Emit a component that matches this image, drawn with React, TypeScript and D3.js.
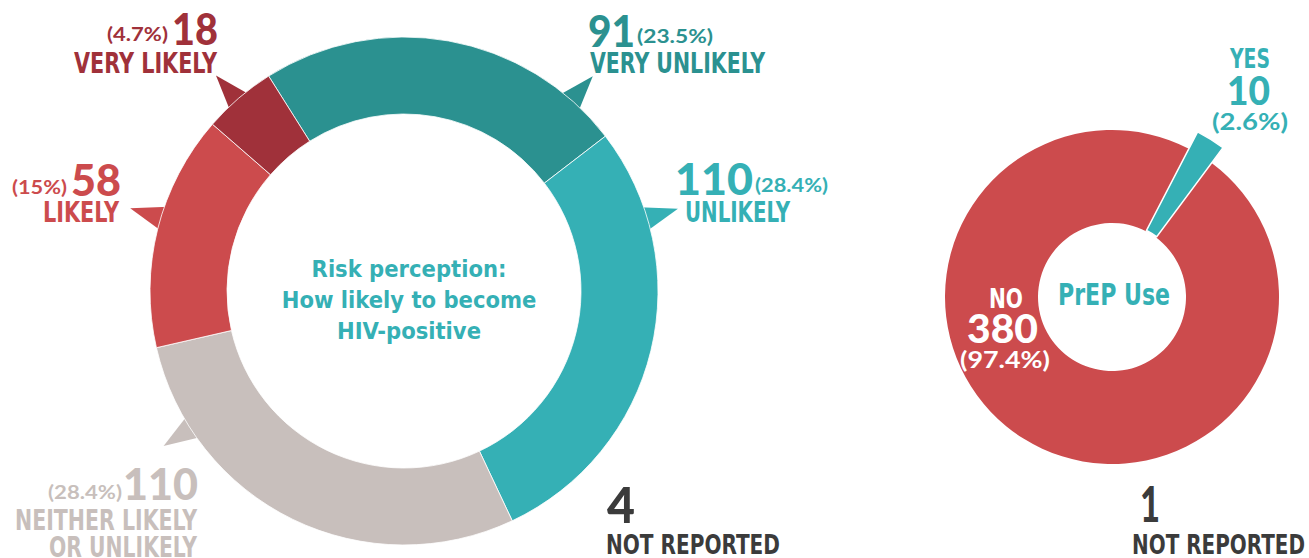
import React from 'react';
import * as d3 from 'd3';

// ---- data ----
const riskCategories = ['VERY UNLIKELY', 'UNLIKELY', 'NEITHER LIKELY OR UNLIKELY', 'LIKELY', 'VERY LIKELY'];
const riskValues = [91, 110, 110, 58, 18];
const riskLabelLines = [['VERY UNLIKELY'], ['UNLIKELY'], ['NEITHER LIKELY', 'OR UNLIKELY'], ['LIKELY'], ['VERY LIKELY']];
const riskNotReported = 4;
const riskTitle = ['Risk perception:', 'How likely to become', 'HIV-positive'];

const prepCategories = ['YES', 'NO'];
const prepValues = [10, 380];
const prepNotReported = 1;
const prepTitle = 'PrEP Use';

// ---- styles / layout ----
const riskColors = ['#2b9190', '#35b0b5', '#c8bfbc', '#cc4b4d', '#a0313a'];
const prepColors = ['#35b0b5', '#cc4b4d'];
const darkText = '#3b3b3b';

const COND = '"Liberation Sans Narrow", "DejaVu Sans Condensed", Roboto, sans-serif';
const ROUND = 'Lato, "Open Sans", sans-serif';

const W = 1309;
const H = 558;
const rad = (deg: number) => (deg * Math.PI) / 180;

const left = { cx: 404, cy: 291, inner: 177, outer: 254, start: -32.2 };
const right = { cx: 1112, cy: 297, inner: 74, outer: 167, start: 27.4 };

// speech-bubble tails, one per risk slice (degrees from 12 o'clock)
const riskTailAngles = [41.3, 73.3, 237.2, 286.8, 318.9];

// label boxes per risk slice: x = left edge, w = width, y = baseline
const riskLabelBoxes = [
  { num: { x: 588, w: 47, y: 47 }, pct: { x: 637, w: 76, y: 43 }, words: [{ x: 590, w: 175, y: 73 }] },
  { num: { x: 675, w: 78, y: 195 }, pct: { x: 755, w: 73, y: 192 }, words: [{ x: 685, w: 105, y: 222 }] },
  { num: { x: 123, w: 75, y: 500 }, pct: { x: 48, w: 74, y: 499 }, words: [{ x: 15, w: 182, y: 530 }, { x: 49, w: 148, y: 557 }] },
  { num: { x: 71, w: 50, y: 196 }, pct: { x: 12, w: 55, y: 194 }, words: [{ x: 43, w: 76, y: 222 }] },
  { num: { x: 172, w: 46, y: 45 }, pct: { x: 107, w: 61, y: 41 }, words: [{ x: 74, w: 143, y: 73 }] },
];

const pctText = (v: number, total: number) => `(${Math.round((v / total) * 1000) / 10}%)`;

function Txt(props: any) {
  const { x, y, w, size, fill, family, weight = 700, anchor, children } = props;
  return (
    <text
      x={x}
      y={y}
      fontSize={size}
      fill={fill}
      fontFamily={family}
      fontWeight={weight}
      textAnchor={anchor}
      textLength={w}
      lengthAdjust={w ? 'spacingAndGlyphs' : undefined}
    >
      {children}
    </text>
  );
}

export default function App() {
  // left donut
  const riskTotal = d3.sum(riskValues);
  const riskPie = d3
    .pie<number>()
    .sort(null)
    .value(d => d)
    .startAngle(rad(left.start))
    .endAngle(rad(left.start) + Math.PI * 2);
  const riskArcs = riskPie(riskValues);
  const riskArc = d3.arc<d3.PieArcDatum<number>>().innerRadius(left.inner).outerRadius(left.outer);

  const tail = (a: number) => {
    const pt = (deg: number, r: number) => [Math.sin(rad(deg)) * r, -Math.cos(rad(deg)) * r];
    const b1 = pt(a - 2.9, left.outer - 4);
    const b2 = pt(a + 2.9, left.outer - 4);
    const tip = pt(a, left.outer + 32);
    return `M${b1[0]},${b1[1]}L${tip[0]},${tip[1]}L${b2[0]},${b2[1]}Z`;
  };

  // right donut
  const prepTotal = d3.sum(prepValues);
  const prepPie = d3
    .pie<number>()
    .sort(null)
    .value(d => d)
    .startAngle(rad(right.start))
    .endAngle(rad(right.start) + Math.PI * 2);
  const prepArcs = prepPie(prepValues);
  const noArc = d3.arc<d3.PieArcDatum<number>>().innerRadius(right.inner).outerRadius(right.outer);
  const yesArc = d3.arc<d3.PieArcDatum<number>>().innerRadius(right.inner + 1).outerRadius(right.outer + 19);

  return (
    <svg width={W} height={H} style={{ position: 'absolute', left: 0, top: 0, display: 'block', background: '#fff' }}>
      {/* risk perception donut */}
      <g transform={`translate(${left.cx},${left.cy})`}>
        {riskArcs.map((a, i) => (
          <path key={'t' + i} d={tail(riskTailAngles[i])} fill={riskColors[i]} />
        ))}
        {riskArcs.map((a, i) => (
          <path key={riskCategories[i]} d={riskArc(a) || ''} fill={riskColors[i]} stroke="#fff" strokeWidth={0.8} />
        ))}
        {riskTitle.map((t, i) => (
          <Txt key={t} x={5} y={-14 + i * 31} size={23.5} fill="#35b0b5" family={COND} anchor="middle">
            {t}
          </Txt>
        ))}
      </g>

      {/* risk labels */}
      {riskValues.map((v, i) => {
        const b = riskLabelBoxes[i];
        return (
          <g key={'lab' + i}>
            <Txt x={b.num.x} y={b.num.y} w={b.num.w} size={43} fill={riskColors[i]} family={ROUND} weight={900}>
              {v}
            </Txt>
            <Txt x={b.pct.x} y={b.pct.y} w={b.pct.w} size={19} fill={riskColors[i]} family={ROUND}>
              {pctText(v, riskTotal)}
            </Txt>
            {riskLabelLines[i].map((line, j) => (
              <Txt key={line} x={b.words[j].x} y={b.words[j].y} w={b.words[j].w} size={27.5} fill={riskColors[i]} family={COND}>
                {line}
              </Txt>
            ))}
          </g>
        );
      })}
      <Txt x={607} y={523} w={28} size={50} fill={darkText} family={ROUND} weight={900}>
        {riskNotReported}
      </Txt>
      <Txt x={606} y={554} w={174} size={27} fill={darkText} family={COND}>
        NOT REPORTED
      </Txt>

      {/* PrEP donut */}
      <g transform={`translate(${right.cx},${right.cy})`}>
        {prepArcs.map((a, i) =>
          i === 0 ? null : <path key={prepCategories[i]} d={noArc(a) || ''} fill={prepColors[i]} />
        )}
        {prepArcs.map((a, i) =>
          i === 0 ? (
            <path key={prepCategories[i]} d={yesArc(a) || ''} fill={prepColors[i]} stroke="#fff" strokeWidth={1.5} />
          ) : null
        )}
        <Txt x={2} y={8} w={112} size={30} fill="#35b0b5" family={COND} anchor="middle">
          {prepTitle}
        </Txt>
      </g>

      {/* PrEP labels */}
      <Txt x={1230} y={68} w={40} size={27} fill={prepColors[0]} family={COND}>
        {prepCategories[0]}
      </Txt>
      <Txt x={1227} y={105} w={43} size={39} fill={prepColors[0]} family={ROUND} weight={900}>
        {prepValues[0]}
      </Txt>
      <Txt x={1212} y={130} w={76} size={23} fill={prepColors[0]} family={ROUND}>
        {pctText(prepValues[0], prepTotal)}
      </Txt>
      <Txt x={989} y={308} w={34} size={27} fill="#fff" family={COND}>
        {prepCategories[1]}
      </Txt>
      <Txt x={967} y={343} w={71} size={39} fill="#fff" family={ROUND} weight={900}>
        {prepValues[1]}
      </Txt>
      <Txt x={960} y={368} w={90} size={23} fill="#fff" family={ROUND}>
        {pctText(prepValues[1], prepTotal)}
      </Txt>
      <Txt x={1140} y={522} w={20} size={49} fill={darkText} family={ROUND} weight={900}>
        {prepNotReported}
      </Txt>
      <Txt x={1132} y={554} w={173} size={27} fill={darkText} family={COND}>
        NOT REPORTED
      </Txt>
    </svg>
  );
}
